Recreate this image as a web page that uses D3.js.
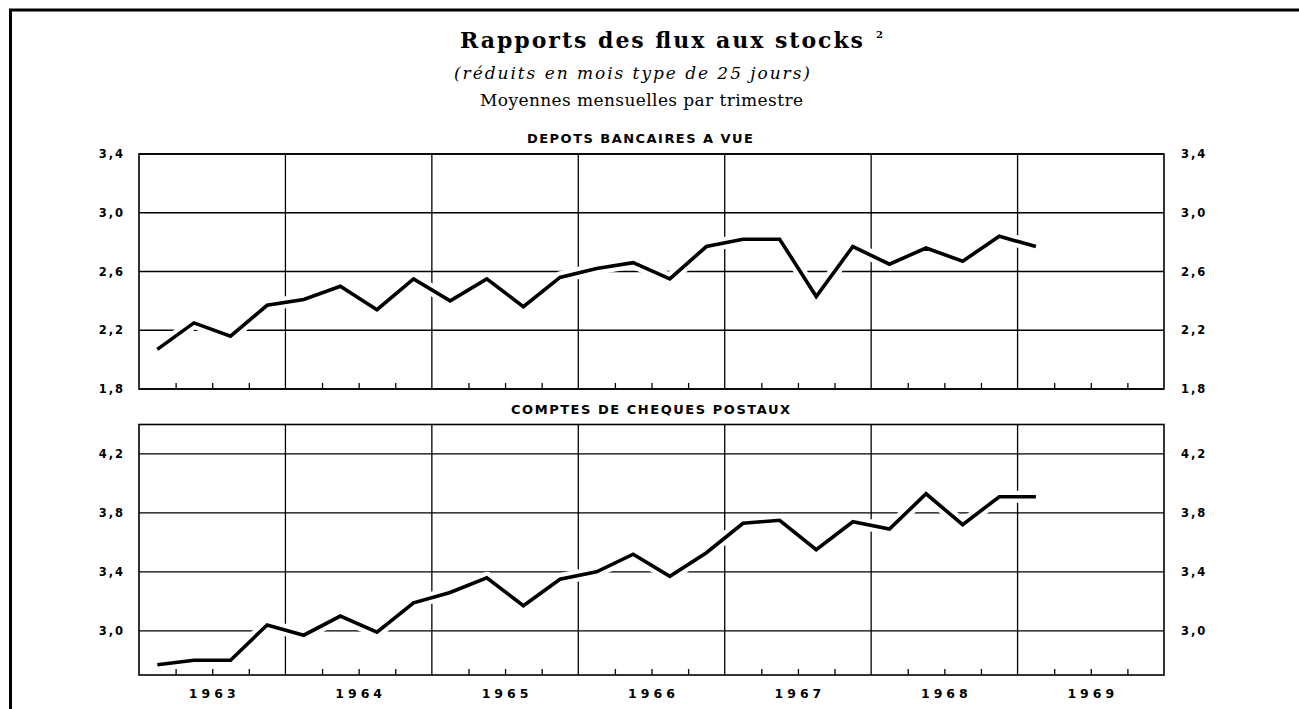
<!DOCTYPE html>
<html>
<head>
<meta charset="utf-8">
<script src="https://cdn.jsdelivr.net/npm/d3@7"></script>
<style>
  body { margin: 0; background: #fff; }
  svg { display: block; }
</style>
</head>
<body>
<div class="canvas"></div>
<script>
// Years shown on the x-axis
const years = [1963, 1964, 1965, 1966, 1967, 1968, 1969];

// Quarterly values, Q1 1963 -> Q1 1969
const depotsValues = [2.07, 2.25, 2.16, 2.37, 2.41, 2.50, 2.34, 2.55,
  2.40, 2.55, 2.36, 2.56, 2.62, 2.66, 2.55, 2.77,
  2.82, 2.82, 2.43, 2.77, 2.65, 2.76, 2.67, 2.84, 2.77];
const ccpValues = [2.77, 2.80, 2.80, 3.04, 2.97, 3.10, 2.99, 3.19,
  3.26, 3.36, 3.17, 3.35, 3.40, 3.52, 3.37, 3.53,
  3.73, 3.75, 3.55, 3.74, 3.69, 3.93, 3.72, 3.91, 3.91];

// Tick labels for each panel
const depotsTicks = [1.8, 2.2, 2.6, 3.0, 3.4];
const ccpTicks = [3.0, 3.4, 3.8, 4.2];

// Variables for d3
const svgWidth = 1299;
const svgHeight = 709;
const plotLeft = 139;
const plotRight = 1164;

const fmt = (v) => d3.format('.1f')(v).replace('.', ',');

let svg = d3.select('.canvas').append('svg')
  .attr('width', svgWidth)
  .attr('height', svgHeight)
  .style('background-color', 'white');

// x scale in quarters, 0 = start of 1963, 28 = start of 1970
const xScale = d3.scaleLinear().domain([0, years.length * 4]).range([plotLeft, plotRight]);

// Outer frame (top and left edges only)
svg.append('line').attr('x1', 9).attr('x2', svgWidth).attr('y1', 10).attr('y2', 10)
  .attr('stroke', '#000').attr('stroke-width', 3);
svg.append('line').attr('x1', 10.5).attr('x2', 10.5).attr('y1', 9).attr('y2', svgHeight)
  .attr('stroke', '#000').attr('stroke-width', 3);

// Titles
function addText(txt, x, y, len, opts) {
  return svg.append('text')
    .attr('x', x).attr('y', y)
    .attr('textLength', len).attr('lengthAdjust', 'spacing')
    .attr('font-family', opts.family)
    .attr('font-size', opts.size)
    .attr('font-weight', opts.weight || 'normal')
    .attr('font-style', opts.style || 'normal')
    .attr('fill', '#000')
    .text(txt);
}

addText('Rapports des flux aux stocks', 460, 48, 403, {family: 'DejaVu Serif', size: 22, weight: 'bold'});
svg.append('text').attr('x', 876).attr('y', 38).attr('font-family', 'DejaVu Serif')
  .attr('font-size', 10).attr('font-weight', 'bold').text('2');
addText('(réduits en mois type de 25 jours)', 454, 79, 356, {family: 'DejaVu Serif', size: 17, style: 'italic'});
addText('Moyennes mensuelles par trimestre', 480, 106, 323, {family: 'DejaVu Serif', size: 17});

// Method: drawPanel()
function drawPanel(values, ticks, domain, yRange, title, titleX, titleLen, showYears) {
  const yScale = d3.scaleLinear().domain(domain).range(yRange);
  const g = svg.append('g');
  const yBottom = yRange[0], yTop = yRange[1];

  // Panel title
  addText(title, titleX, yTop - 11, titleLen, {family: 'DejaVu Sans', size: 13, weight: 'bold'});

  // Horizontal gridlines
  g.selectAll('.hgrid').data(ticks).enter().append('line')
    .attr('x1', plotLeft).attr('x2', plotRight)
    .attr('y1', d => yScale(d)).attr('y2', d => yScale(d))
    .attr('stroke', '#000').attr('stroke-width', 1.3);

  // Vertical year lines
  g.selectAll('.vgrid').data(d3.range(1, years.length)).enter().append('line')
    .attr('x1', d => xScale(d * 4)).attr('x2', d => xScale(d * 4))
    .attr('y1', yTop).attr('y2', yBottom)
    .attr('stroke', '#000').attr('stroke-width', 1.3);

  // Quarter ticks pointing inward from the bottom
  const xAxis = d3.axisBottom(xScale)
    .tickValues(d3.range(1, years.length * 4).filter(d => d % 4 !== 0))
    .tickSize(-6).tickFormat('');
  g.append('g').attr('transform', 'translate(0,' + yBottom + ')').call(xAxis)
    .call(s => s.select('.domain').remove())
    .selectAll('line').attr('stroke', '#000').attr('stroke-width', 1.3);

  // Panel frame
  g.append('rect').attr('x', plotLeft).attr('y', yTop)
    .attr('width', plotRight - plotLeft).attr('height', yBottom - yTop)
    .attr('fill', 'none').attr('stroke', '#000').attr('stroke-width', 1.6);

  // Left and right axis labels
  const leftAxis = d3.axisLeft(yScale).tickValues(ticks).tickSize(0).tickPadding(14).tickFormat(fmt);
  const rightAxis = d3.axisRight(yScale).tickValues(ticks).tickSize(0).tickPadding(17).tickFormat(fmt);
  [[leftAxis, plotLeft], [rightAxis, plotRight]].forEach(([ax, x]) => {
    g.append('g').attr('transform', 'translate(' + x + ',0)').call(ax)
      .call(s => s.select('.domain').remove())
      .selectAll('text')
      .attr('font-family', 'DejaVu Sans').attr('font-size', 11.5).attr('font-weight', 'bold')
      .attr('letter-spacing', 2).attr('fill', '#000');
  });

  // Data line with a white knock-out under it
  const line = d3.line().x((d, i) => xScale(i + 0.5)).y(d => yScale(d));
  g.append('path').datum(values).attr('d', line)
    .attr('fill', 'none').attr('stroke', '#fff').attr('stroke-width', 12)
    .attr('stroke-linejoin', 'round');
  g.append('path').datum(values).attr('d', line)
    .attr('fill', 'none').attr('stroke', '#000').attr('stroke-width', 3.6)
    .attr('stroke-linejoin', 'miter');

  // Year labels
  if (showYears) {
    g.selectAll('.year').data(years).enter().append('text')
      .attr('x', (d, i) => xScale(i * 4 + 2) + 2)
      .attr('y', yBottom + 23)
      .attr('text-anchor', 'middle')
      .attr('font-family', 'DejaVu Sans').attr('font-size', 12.5).attr('font-weight', 'bold')
      .attr('letter-spacing', 4).attr('fill', '#000')
      .text(d => d);
  }
}

drawPanel(depotsValues, depotsTicks, [1.8, 3.4], [389, 154],
  'DEPOTS BANCAIRES A VUE', 527, 226, false);
drawPanel(ccpValues, ccpTicks, [2.7, 4.4], [675, 424.5],
  'COMPTES DE CHEQUES POSTAUX', 511, 279, true);
</script>
</body>
</html>
